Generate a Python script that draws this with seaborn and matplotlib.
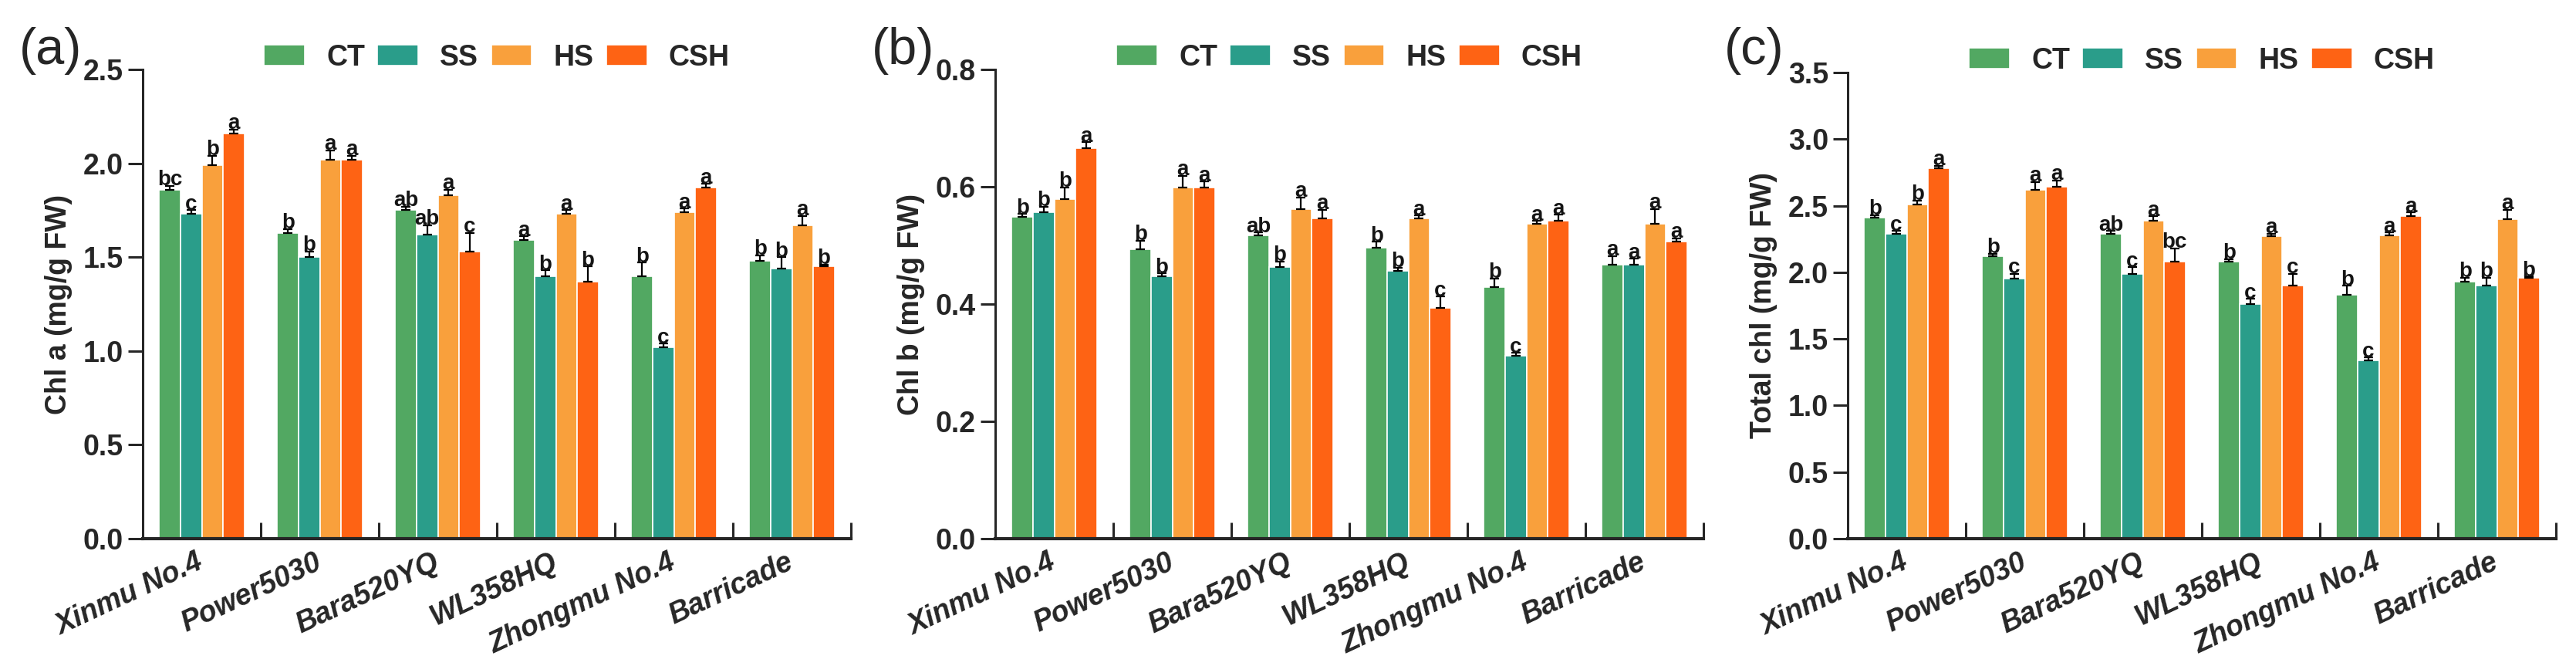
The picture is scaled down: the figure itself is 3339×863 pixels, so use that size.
import numpy as np
import pandas as pd
import matplotlib
matplotlib.use("Agg")
import matplotlib.pyplot as plt
import matplotlib.transforms as mtransforms
from matplotlib import font_manager
import seaborn as sns

# cultivars and treatments
cultivars = ["Xinmu No.4", "Power5030", "Bara520YQ", "WL358HQ", "Zhongmu No.4", "Barricade"]
treatments = ["CT", "SS", "HS", "CSH"]
colors = ["#52A862", "#2A9D8A", "#F9A03C", "#FE6314"]

# Chl a  (rows = cultivar, cols = CT, SS, HS, CSH)
chla = [[1.86, 1.73, 1.99, 2.16],
        [1.63, 1.50, 2.02, 2.02],
        [1.75, 1.62, 1.83, 1.53],
        [1.59, 1.40, 1.73, 1.37],
        [1.40, 1.02, 1.74, 1.87],
        [1.48, 1.44, 1.67, 1.45]]
chla_err = [[0.02, 0.02, 0.05, 0.02],
            [0.02, 0.03, 0.05, 0.02],
            [0.02, 0.05, 0.03, 0.10],
            [0.02, 0.03, 0.02, 0.08],
            [0.07, 0.02, 0.02, 0.02],
            [0.03, 0.06, 0.05, 0.01]]
chla_let = [["bc", "c", "b", "a"],
            ["b", "b", "a", "a"],
            ["ab", "ab", "a", "c"],
            ["a", "b", "a", "b"],
            ["b", "c", "a", "a"],
            ["b", "b", "a", "b"]]

# Chl b
chlb = [[0.549, 0.556, 0.579, 0.666],
        [0.493, 0.447, 0.599, 0.599],
        [0.517, 0.463, 0.562, 0.546],
        [0.496, 0.457, 0.546, 0.393],
        [0.429, 0.312, 0.537, 0.542],
        [0.467, 0.467, 0.537, 0.507]]
chlb_err = [[0.005, 0.010, 0.020, 0.010],
            [0.015, 0.005, 0.020, 0.010],
            [0.005, 0.010, 0.020, 0.015],
            [0.010, 0.005, 0.005, 0.020],
            [0.015, 0.005, 0.005, 0.010],
            [0.015, 0.010, 0.025, 0.005]]
chlb_let = [["b", "b", "b", "a"],
            ["b", "b", "a", "a"],
            ["ab", "b", "a", "a"],
            ["b", "b", "a", "c"],
            ["b", "c", "a", "a"],
            ["a", "a", "a", "a"]]

# Total chl
total = [[2.41, 2.29, 2.51, 2.78],
         [2.12, 1.95, 2.62, 2.64],
         [2.29, 1.99, 2.39, 2.08],
         [2.08, 1.76, 2.27, 1.90],
         [1.83, 1.34, 2.28, 2.42],
         [1.93, 1.90, 2.40, 1.96]]
total_err = [[0.02, 0.02, 0.03, 0.02],
             [0.02, 0.04, 0.06, 0.05],
             [0.02, 0.05, 0.03, 0.10],
             [0.02, 0.04, 0.02, 0.09],
             [0.07, 0.02, 0.02, 0.03],
             [0.03, 0.06, 0.07, 0.01]]
total_let = [["b", "c", "b", "a"],
             ["b", "c", "a", "a"],
             ["ab", "c", "a", "bc"],
             ["b", "c", "a", "c"],
             ["b", "c", "a", "a"],
             ["b", "b", "a", "b"]]

panels = [
    ("(a)", "Chl a (mg/g FW)", chla, chla_err, chla_let, 2.5, 0.5),
    ("(b)", "Chl b (mg/g FW)", chlb, chlb_err, chlb_let, 0.8, 0.2),
    ("(c)", "Total chl (mg/g FW)", total, total_err, total_let, 3.5, 0.5),
]

sns.set_style("ticks")
plt.rcParams["font.family"] = ["Liberation Sans", "DejaVu Sans"]

# narrow face for the letters if it is there
installed = {f.name for f in font_manager.fontManager.ttflist}
narrow = "Liberation Sans Narrow" if "Liberation Sans Narrow" in installed else "Liberation Sans"
let_size = 24 if narrow == "Liberation Sans Narrow" else 20

W, H = 3339, 863
fig = plt.figure(figsize=(W / 100, H / 100), dpi=100)
lefts = [185, 1290, 2395]
tops = [90, 90, 94]
bottom = 698
axw = 918

for (tag, ylab, vals, errs, lets, ymax, step), lx, ty in zip(panels, lefts, tops):
    ax = fig.add_axes([lx / W, 1 - bottom / H, axw / W, (bottom - ty) / H])
    df = pd.DataFrame([(c, t, vals[i][j]) for i, c in enumerate(cultivars)
                       for j, t in enumerate(treatments)],
                      columns=["cultivar", "treatment", "value"])
    sns.barplot(data=df, x="cultivar", y="value", hue="treatment",
                order=cultivars, hue_order=treatments, palette=colors,
                width=0.72, errorbar=None, edgecolor="white", linewidth=1.2,
                saturation=1, ax=ax)

    bar_conts = list(ax.containers)
    for j, cont in enumerate(bar_conts):
        xs = [b.get_x() + b.get_width() / 2 for b in cont.patches]
        ys = [vals[i][j] for i in range(len(cultivars))]
        es = [errs[i][j] for i in range(len(cultivars))]
        ax.errorbar(xs, ys, yerr=[np.zeros(len(es)), es], fmt="none",
                    ecolor="black", elinewidth=1.6, capsize=4, capthick=1.6)
        for x, y, e, i in zip(xs, ys, es, range(len(cultivars))):
            ax.annotate(lets[i][j], (x, y + e), xytext=(0, -4),
                        textcoords="offset points", ha="center", va="bottom",
                        fontsize=let_size, fontweight="bold", family=narrow,
                        color="#151515")

    ax.set_xlim(-0.5, len(cultivars) - 0.5)
    ax.set_ylim(0, ymax)
    ax.set_yticks(np.arange(0, ymax + step / 2, step))
    ax.yaxis.set_major_formatter(matplotlib.ticker.FormatStrFormatter("%.1f"))
    ax.set_xticks(range(len(cultivars)))
    ax.set_xticklabels(cultivars, rotation=25, ha="right", va="center",
                       rotation_mode="anchor", fontsize=27,
                       fontstyle="italic", fontweight="bold")
    shift = mtransforms.ScaledTranslation(8 / 72, 0, fig.dpi_scale_trans)
    for lab in ax.get_xticklabels():
        lab.set_transform(lab.get_transform() + shift)
    ax.set_xticks(np.arange(0.5, len(cultivars), 1.0), minor=True)
    ax.tick_params(axis="x", which="major", length=0, pad=21)
    ax.tick_params(axis="x", which="minor", direction="in", length=15, width=2.2)
    ax.tick_params(axis="y", direction="out", length=14, width=2.2,
                   labelsize=27, pad=4)
    for lab in ax.get_yticklabels():
        lab.set_fontweight("bold")
    ax.set_xlabel("")
    ax.set_ylabel(ylab, fontsize=27, fontweight="bold", labelpad=10)
    sns.despine(ax=ax)
    ax.spines["left"].set_linewidth(2.2)
    ax.spines["bottom"].set_linewidth(3.0)

    handles, labels = ax.get_legend_handles_labels()
    ax.legend(handles, labels, ncol=4, loc="center",
              bbox_to_anchor=(0.5, 1.025), frameon=False,
              prop={"size": 27, "weight": "bold"},
              handlelength=1.41, handleheight=0.72,
              handletextpad=0.75, columnspacing=0.43)

    fig.text((lx - 160) / W, 1 - 66 / H, tag, fontsize=48, family=narrow,
             va="center", ha="left")

fig.savefig("out.png", dpi=100)
